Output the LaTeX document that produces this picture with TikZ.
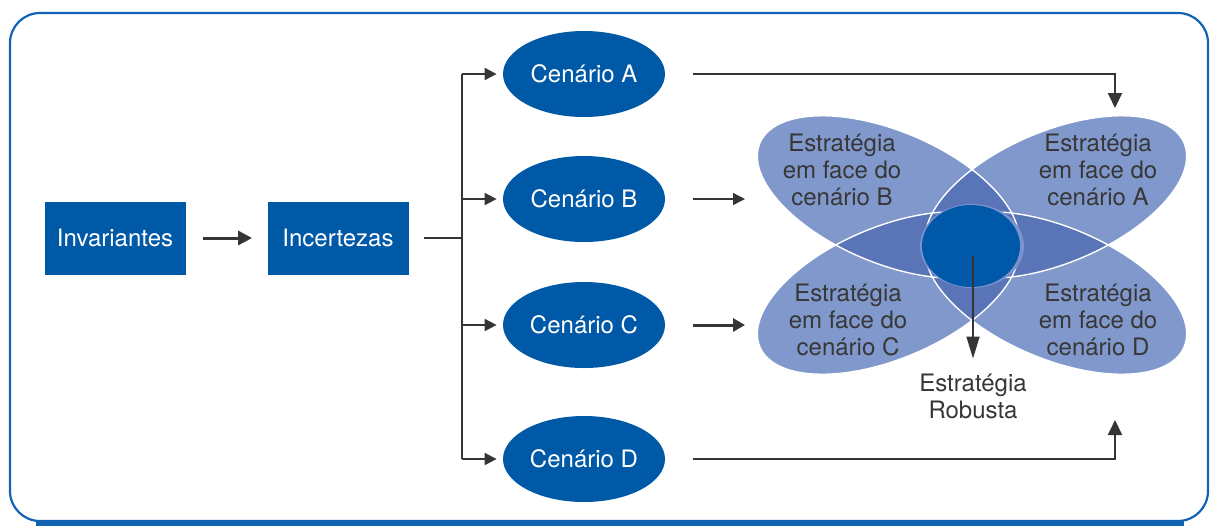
\documentclass[tikz,border=0pt]{standalone}
\usepackage{fontspec}
\setmainfont{TeX Gyre Heros}
\usetikzlibrary{shapes.geometric,arrows.meta}

\definecolor{boxblue}{RGB}{0,89,167}
\definecolor{frameblue}{RGB}{18,99,180}
\definecolor{petal}{RGB}{128,152,203}
\definecolor{lens}{RGB}{89,117,183}
\definecolor{core}{RGB}{0,88,168}
\definecolor{rim}{RGB}{122,146,206}
\definecolor{arrowgray}{RGB}{51,54,50}
\definecolor{txtgray}{RGB}{55,55,55}

% the four petals of the flower
\newcommand{\petalA}{(1056,197) ellipse [x radius=69.5pt, y radius=33pt, rotate=22.8]}
\newcommand{\petalB}{(888,197) ellipse [x radius=69.5pt, y radius=33pt, rotate=-22.8]}
\newcommand{\petalC}{(888,293) ellipse [x radius=69.5pt, y radius=33pt, rotate=22.8]}
\newcommand{\petalD}{(1056,293) ellipse [x radius=69.5pt, y radius=33pt, rotate=-22.8]}

\tikzset{
  stage/.style={fill=boxblue, text=white, minimum width=70.5pt, minimum height=36.5pt, inner sep=0pt},
  scenario/.style={ellipse, fill=boxblue, text=white, minimum width=81pt, minimum height=43pt, inner sep=0pt},
  petaltext/.style={text=txtgray, align=center},
  link/.style={draw=arrowgray, line width=1pt},
  branch/.style={link, -{Triangle[length=6pt, width=6pt]}, shorten >=3pt},
}

\begin{document}
\begin{tikzpicture}[x=0.5pt, y=-0.5pt, font=\fontsize{12}{13.5}\selectfont]
\useasboundingbox (0,0) rectangle (1215,527);

    % frame
    \draw[frameblue, line width=2.5pt] (36,523.5) -- (1184,523.5);
    \draw[frameblue, line width=1.1pt, rounded corners=15pt] (10,13) rectangle (1208,521);

    \node[stage] (inv) at (115,238) {Invariantes};
    \node[stage] (inc) at (338,238) {Incertezas};
    \draw (inv) edge[link, line width=1.5pt, -{Triangle[length=7pt, width=7pt]}, shorten <=8.5pt, shorten >=7.5pt] (inc);

    \node[scenario] (cenA) at (584,74) {Cenário A};
    \node[scenario] (cenB) at (584,199) {Cenário B};
    \node[scenario] (cenC) at (584,325) {Cenário C};
    \node[scenario] (cenD) at (584,459) {Cenário D};

    \coordinate (split) at (462,238);
    \draw[link, shorten <=7.5pt] (inc) -- (split);
    \draw[link] (split |- cenA) -- (split |- cenD);
    \draw (split |- cenA) edge[branch] (cenA.west);
    \draw (split |- cenB) edge[branch] (cenB.west);
    \draw (split |- cenC) edge[branch] (cenC.west);
    \draw (split |- cenD) edge[branch] (cenD.west);

    % flower
    \fill[petal] \petalA \petalB \petalC \petalD;
    \begin{scope}
      \clip \petalA;
      \fill[lens] \petalB \petalC \petalD;
    \end{scope}
    \begin{scope}
      \clip \petalB;
      \fill[lens] \petalC \petalD;
    \end{scope}
    \begin{scope}
      \clip \petalC;
      \fill[lens] \petalD;
    \end{scope}
    \draw[white, line width=0.7pt] \petalA \petalB \petalC \petalD;
    \fill[rim] (972,246) ellipse [x radius=26pt, y radius=21pt];
    \node[ellipse, fill=core, minimum width=49pt, minimum height=41pt, inner sep=0pt] (core) at (971,246) {};

    \node[petaltext] (stratA) at (1098,170) {Estratégia\\em face do\\cenário A};
    \node[petaltext] (stratB) at (842,170) {Estratégia\\em face do\\cenário B};
    \node[petaltext] (stratC) at (848,320) {Estratégia\\em face do\\cenário C};
    \node[petaltext] (stratD) at (1098,320) {Estratégia\\em face do\\cenário D};
    \node[petaltext] (robust) at (973,396) {Estratégia\\Robusta};

    \coordinate (intoA) at (1115,108);
    \coordinate (intoB) at (745,199);
    \coordinate (intoC) at (745,325);
    \coordinate (intoD) at (1115,420);
    \draw[link, -{Triangle[length=7.5pt, width=7pt]}, shorten <=14pt] (cenA.east) -| (intoA);
    \draw (cenB.east) edge[link, line width=0.7pt, -{Triangle[length=6pt, width=6pt]}, shorten <=14pt] (intoB);
    \draw (cenC.east) edge[link, line width=1.5pt, -{Triangle[length=6pt, width=6.5pt]}, shorten <=14pt] (intoC);
    \draw[link, -{Triangle[length=7.5pt, width=7pt]}, shorten <=14pt] (cenD.east) -| (intoD);
    \draw ([yshift=-5pt]core.center -| robust.north) edge[link, line width=0.8pt, -{Triangle[length=11pt, width=6.5pt]}, shorten >=4pt] (robust.north);

\end{tikzpicture}
\end{document}
